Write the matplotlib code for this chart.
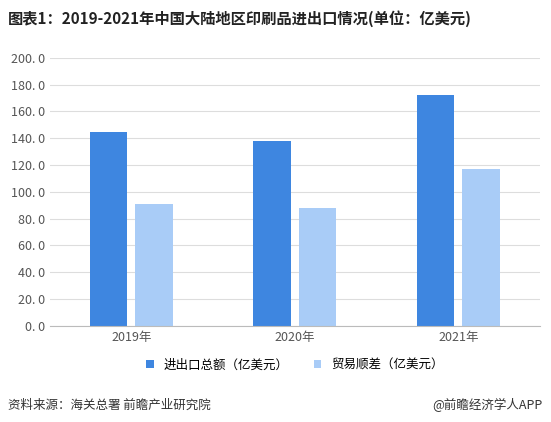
import matplotlib
matplotlib.use("Agg")
import matplotlib.pyplot as plt
import numpy as np

plt.rcParams['font.family'] = ['Noto Sans CJK SC', 'DejaVu Sans']

years = ["2019年", "2020年", "2021年"]
total = [145, 138, 172]
surplus = [91, 88, 117]
series_names = ["进出口总额（亿美元）", "贸易顺差（亿美元）"]
yticks = list(range(0, 201, 20))

fig = plt.figure(figsize=(5.51, 4.22), dpi=100)
ax = fig.add_axes([0.09, 0.228, 0.89, 0.635])
x = np.arange(len(years))
w = 0.23
ax.bar(x - 0.14, total, w, color="#3E86E0", label=series_names[0])
ax.bar(x + 0.14, surplus, w, color="#A9CCF7", label=series_names[1])
ax.set_ylim(0, 200)
ax.set_xlim(-0.5, 2.5)
ax.set_yticks(yticks)
ax.set_yticklabels([f"{v}. 0" for v in yticks], fontsize=9, color="#555555")
ax.set_xticks(x)
ax.set_xticklabels(years, fontsize=9, color="#555555")
ax.yaxis.grid(True, color="#DDDDDD", lw=0.8)
ax.set_axisbelow(True)
for s in ["top", "right", "left"]:
    ax.spines[s].set_visible(False)
ax.spines["bottom"].set_color("#BBBBBB")
ax.tick_params(length=0)
ax.legend(loc="upper center", bbox_to_anchor=(0.5, -0.08), ncol=2, frameon=False,
          fontsize=9, handlelength=0.6, handleheight=0.6, columnspacing=2)

fig.text(0.015, 0.955, "图表1：2019-2021年中国大陆地区印刷品进出口情况(单位：亿美元)",
         fontsize=11, fontweight="bold", color="#222222", va="center")
fig.text(0.015, 0.04, "资料来源：海关总署 前瞻产业研究院", fontsize=9, color="#333333", va="center")
fig.text(0.985, 0.04, "@前瞻经济学人APP", fontsize=9, color="#333333", va="center", ha="right")
fig.savefig("out.png", dpi=100, facecolor="white")
